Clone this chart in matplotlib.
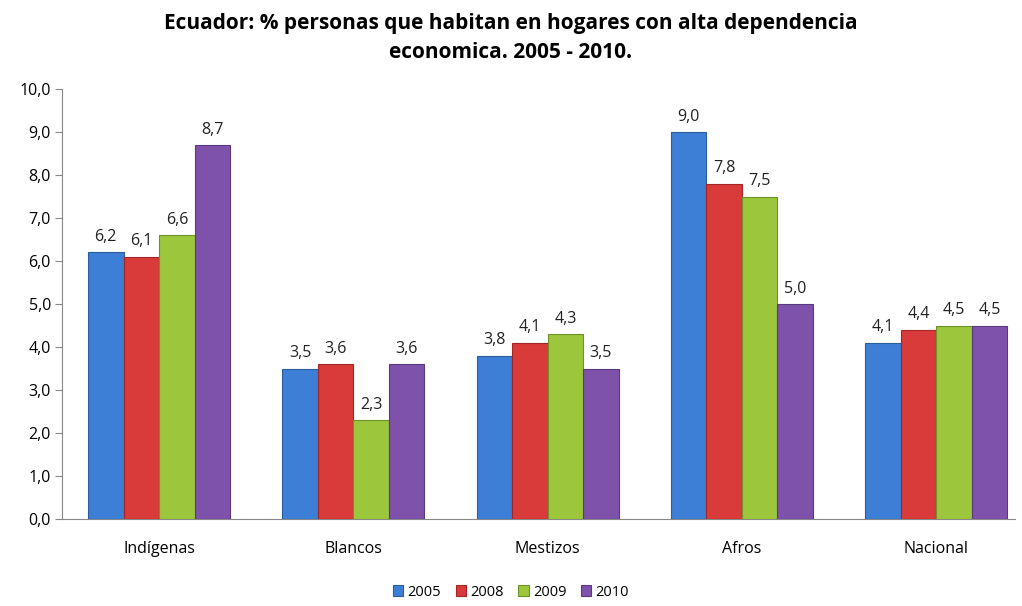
import matplotlib
matplotlib.use("Agg")
import matplotlib.pyplot as plt
import numpy as np

plt.rcParams['font.family'] = ['Open Sans', 'DejaVu Sans']

categories = ['Indígenas', 'Blancos', 'Mestizos', 'Afros', 'Nacional']
years = ['2005', '2008', '2009', '2010']
v2005 = [6.2, 3.5, 3.8, 9.0, 4.1]
v2008 = [6.1, 3.6, 4.1, 7.8, 4.4]
v2009 = [6.6, 2.3, 4.3, 7.5, 4.5]
v2010 = [8.7, 3.6, 3.5, 5.0, 4.5]
series = [v2005, v2008, v2009, v2010]
colors = ['#3d7fd6', '#d93a3a', '#9cc73c', '#7e52ab']
edges = ['#2a5c9e', '#a32626', '#6f9228', '#5a3a7e']

fig = plt.figure(figsize=(10.22, 6.06), dpi=100)
ax = fig.add_axes([62/1022, 1 - 519/606, (1015-62)/1022, (519-89)/606])

x = np.arange(len(categories))
w = 0.183
for i, (vals, c, ec) in enumerate(zip(series, colors, edges)):
    pos = x + (i - 1.5) * w
    ax.bar(pos, vals, w, color=c, edgecolor=ec, linewidth=0.8, label=years[i], zorder=3)
    for p, v in zip(pos, vals):
        ax.text(p, v + 0.17, f'{v:.1f}'.replace('.', ','), ha='center', va='bottom',
                fontsize=11.5, color='#222222')

ax.set_xlim(-0.5, 4.406)
ax.set_ylim(0, 10)
ax.set_yticks(np.arange(0, 10.1, 1))
ax.set_yticklabels([f'{t:.1f}'.replace('.', ',') for t in np.arange(0, 10.1, 1)], fontsize=11.5)
ax.set_xticks(x)
ax.set_xticklabels(categories, fontsize=11.5)
ax.tick_params(axis='x', length=0, pad=16)
ax.tick_params(axis='y', length=5, color='#888888', direction='out', pad=3)
for s in ['top', 'right']:
    ax.spines[s].set_visible(False)
ax.spines['left'].set_color('#888888')
ax.spines['bottom'].set_color('#888888')

fig.text(0.5, 1 - 13/606, 'Ecuador: % personas que habitan en hogares con alta dependencia\neconomica. 2005 - 2010.',
         ha='center', va='top', fontsize=15, fontweight='bold', linespacing=1.5)

fig.legend(loc='center', bbox_to_anchor=(0.5, 1 - 592/606), ncol=4, frameon=False,
           fontsize=10.5, handlelength=0.7, handleheight=0.7, handletextpad=0.3, columnspacing=1.0)

fig.savefig('out.png', dpi=100)
